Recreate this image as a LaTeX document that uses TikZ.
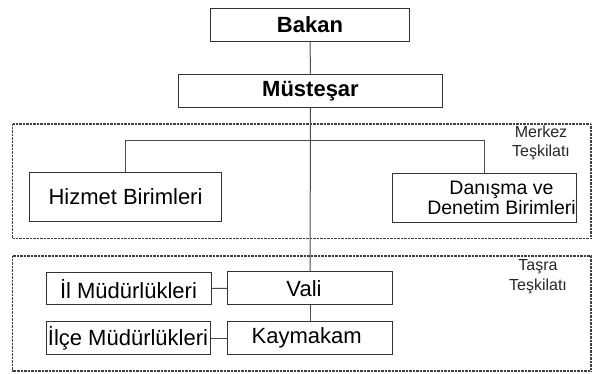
\documentclass[tikz,border=0pt]{standalone}
\usepackage{fontspec}
\setmainfont{Liberation Sans}
\begin{document}
\begin{tikzpicture}[x=1pt,y=-1pt,
  box/.style={draw=black!80,line width=1pt,inner sep=0pt,fill=white,
    font=\fontsize{22}{24}\selectfont},
  conn/.style={draw=black!70,line width=1pt},
  group/.style={draw=black!75,line width=1.1pt,dash pattern=on 0.8pt off 0.6pt},
  grouplabel/.style={align=center,inner sep=0pt,font=\fontsize{16}{19.5}\selectfont,text=black!85}]
\useasboundingbox (0,0) rectangle (592,373);
% group frames
\draw[group] (12.7,124) rectangle (591,238.5);
\draw[group] (12.7,256) rectangle (591,371);
\node[grouplabel] (merkez) at (541,143) {Merkez\\Teşkilatı};
\node[grouplabel] (tasra) at (538,276.5) {Taşra\\Teşkilatı};
% boxes
\node[box,minimum width=198.6pt,minimum height=33.4pt,font=\fontsize{22}{24}\selectfont\bfseries] (bakan) at (310,25) {Bakan};
\node[box,minimum width=264.4pt,minimum height=33.3pt,font=\fontsize{22}{24}\selectfont\bfseries] (mus) at (310.5,90.7) {Müsteşar};
\node[box,minimum width=192.4pt,minimum height=49.4pt] (hiz) at (125.5,197) {Hizmet Birimleri};
\node[box,minimum width=184pt,minimum height=49.4pt] (dan) at (484.7,198) {};
\node[align=center,inner sep=0pt,font=\fontsize{19.5}{19.5}\selectfont] (dantext) at (501.5,198) {Danışma ve\\Denetim Birimleri};
\node[box,minimum width=165.4pt,minimum height=33.3pt] (vali) at (310,288.3) {};
\node[inner sep=0pt,font=\fontsize{22}{24}\selectfont] (valitext) at (304,288.3) {Vali};
\node[box,minimum width=165.4pt,minimum height=32.6pt] (kay) at (310,338) {};
\node[inner sep=0pt,font=\fontsize{22}{24}\selectfont] (kaytext) at (306.7,338) {Kaymakam};
\node[box,minimum width=165pt,minimum height=32.7pt] (il) at (128.5,288.6) {İl Müdürlükleri};
\node[box,minimum width=164pt,minimum height=32.6pt] (ilce) at (128,338) {İlçe Müdürlükleri};
% connectors
\coordinate (bar) at (310,140.5);
\draw[conn] (bakan) -- (mus);
\draw[conn] (mus) -- (vali);
\draw[conn] (hiz.north) -- (hiz.north |- bar) -- (dan.north |- bar) -- (dan.north);
\draw[conn] (vali) -- (kay);
\draw[conn] (il) -- (vali);
\draw[conn] (ilce) -- (kay);
\end{tikzpicture}
\end{document}
